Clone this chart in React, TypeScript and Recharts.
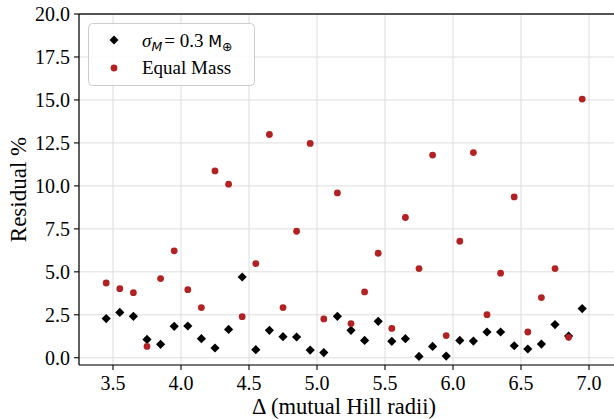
import { ScatterChart, Scatter, XAxis, YAxis, CartesianGrid, Legend, ReferenceLine, Label } from 'recharts';

const spacing = [
    3.45, 3.55, 3.65, 3.75, 3.85, 3.95, 4.05, 4.15, 4.25, 4.35, 4.45, 4.55,
    4.65, 4.75, 4.85, 4.95, 5.05, 5.15, 5.25, 5.35, 5.45, 5.55, 5.65, 5.75,
    5.85, 5.95, 6.05, 6.15, 6.25, 6.35, 6.45, 6.55, 6.65, 6.75, 6.85, 6.95,
];

const sigmaResidual = [
    2.28, 2.64, 2.41, 1.07, 0.78, 1.83, 1.85, 1.11, 0.57, 1.65, 4.70, 0.47,
    1.60, 1.23, 1.21, 0.45, 0.30, 2.41, 1.60, 1.01, 2.12, 0.96, 1.11, 0.08,
    0.66, 0.10, 1.01, 0.97, 1.50, 1.50, 0.70, 0.51, 0.80, 1.93, 1.26, 2.86,
];

const equalResidual = [
    4.35, 4.02, 3.79, 0.66, 4.61, 6.22, 3.96, 2.92, 10.87, 10.10, 2.39, 5.48,
    12.99, 2.92, 7.36, 12.47, 2.26, 9.59, 1.99, 3.83, 6.08, 1.71, 8.16, 5.19,
    11.79, 1.29, 6.78, 11.94, 2.51, 4.92, 9.36, 1.50, 3.50, 5.19, 1.19, 15.05,
];

const xTicks = [3.5, 4.0, 4.5, 5.0, 5.5, 6.0, 6.5, 7.0];
const yTicks = [0, 2.5, 5, 7.5, 10, 12.5, 15, 17.5, 20];

const sigmaData = spacing.map((x, i) => ({ x, y: sigmaResidual[i] }));
const equalData = spacing.map((x, i) => ({ x, y: equalResidual[i] }));

const RED = '#b22222';
const FONT = 'Liberation Serif, Times New Roman, serif';
const SANS = 'DejaVu Sans, sans-serif';

const Diamond = (props: any) => {
    const { cx, cy } = props;
    const s = 4.6;
    return <polygon points={`${cx},${cy - s} ${cx + s},${cy} ${cx},${cy + s} ${cx - s},${cy}`} fill="#000" />;
};

const Dot = (props: any) => <circle cx={props.cx} cy={props.cy} r={3.4} fill={RED} />;

const LegendBox = () => (
    <svg width={168} height={64} style={{ display: 'block', fontFamily: FONT }}>
        <rect x={0.5} y={0.5} width={166} height={62} rx={4} fill="rgba(255,255,255,0.85)" stroke="#cccccc" />
        <polygon points="26,12.5 30.5,17 26,21.5 21.5,17" fill="#000" />
        <text x={54} y={24} fontSize={19} fill="#000" style={{ fontFamily: FONT }}>
            <tspan fontStyle="italic">σ</tspan>
            <tspan style={{ fontFamily: SANS }} fontStyle="italic" fontSize={12.5} dy={4}>M</tspan>
            <tspan dy={-4} dx={2}>= 0.3 </tspan>
            <tspan style={{ fontFamily: SANS }} fontSize={16}>M</tspan>
            <tspan style={{ fontFamily: SANS }} fontSize={12.5} dy={4}>⊕</tspan>
        </text>
        <circle cx={26} cy={45} r={3.4} fill={RED} />
        <text x={54} y={51} fontSize={19} fill="#000" style={{ fontFamily: FONT }}>Equal Mass</text>
    </svg>
);

const App = () => (
    <div style={{ position: 'absolute', left: 0, top: 0, width: 614, height: 419, overflow: 'hidden', background: '#fff', fontFamily: FONT }}>
        <ScatterChart width={623} height={419} margin={{ top: 14, right: 0, left: 0, bottom: 0 }} style={{ fontFamily: FONT }}>
            <CartesianGrid stroke="#dddddd" strokeWidth={1} />
            <XAxis
                type="number"
                dataKey="x"
                domain={[3.25, 7.25]}
                ticks={xTicks}
                tickFormatter={(v) => v.toFixed(1)}
                height={54}
                tickSize={5}
                tickMargin={6}
                axisLine={{ stroke: '#000', strokeWidth: 1.2 }}
                tickLine={{ stroke: '#000', strokeWidth: 1.1 }}
                tick={{ fill: '#000', fontSize: 20, style: { fontFamily: FONT } }}
                allowDataOverflow
            >
                <Label value="Δ (mutual Hill radii)" position="insideBottom" offset={5} dx={-7} fill="#000" fontSize={22.5} style={{ fontFamily: FONT }} />
            </XAxis>
            <YAxis
                type="number"
                dataKey="y"
                domain={[-0.42, 20]}
                ticks={yTicks}
                tickFormatter={(v) => v.toFixed(1)}
                width={79}
                tickSize={5}
                tickMargin={4}
                axisLine={{ stroke: '#000', strokeWidth: 1.2 }}
                tickLine={{ stroke: '#000', strokeWidth: 1.1 }}
                tick={{ fill: '#000', fontSize: 20, style: { fontFamily: FONT } }}
                allowDataOverflow
            >
                <Label value="Residual %" angle={-90} position="insideLeft" offset={18} fill="#000" fontSize={23} style={{ textAnchor: 'middle', fontFamily: FONT }} />
            </YAxis>
            <ReferenceLine y={20} stroke="#222" strokeWidth={1.3} />
            <Legend
                layout="vertical"
                align="center"
                verticalAlign="middle"
                wrapperStyle={{ left: 88, top: 23, width: 168 }}
                content={() => <LegendBox />}
            />
            <Scatter name="sigma" data={sigmaData} shape={<Diamond />} isAnimationActive={false} />
            <Scatter name="equal" data={equalData} shape={<Dot />} isAnimationActive={false} />
        </ScatterChart>
    </div>
);

export default App;
